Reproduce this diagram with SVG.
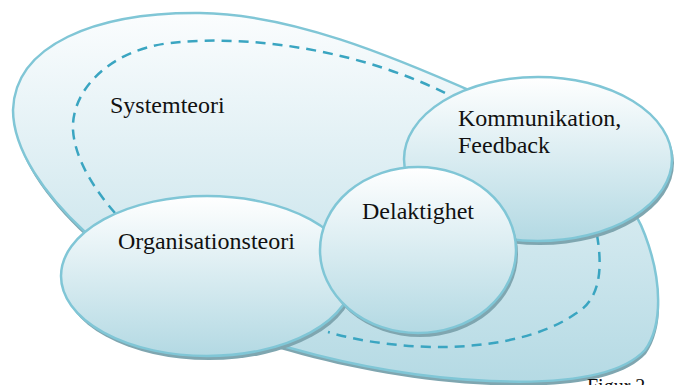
<svg xmlns="http://www.w3.org/2000/svg" width="680" height="385" viewBox="0 0 680 385">
  <defs>
    <linearGradient id="fillGrad" x1="0" y1="0" x2="0" y2="1">
      <stop offset="0" stop-color="#ffffff"/>
      <stop offset="1" stop-color="#b3d9e3"/>
    </linearGradient>
    <linearGradient id="blobGrad" x1="0" y1="0" x2="0" y2="1">
      <stop offset="0" stop-color="#fbfdfe"/>
      <stop offset="1" stop-color="#b5dae4"/>
    </linearGradient>
  </defs>
  <style>
    .shape { stroke: #80c6d6; stroke-width: 2.5; }
    .ell { fill: url(#fillGrad); }
    .shadow { fill: #7fa6b0; stroke: none; }
    .loop { fill: none; stroke: #3aa5c1; stroke-width: 2.5; stroke-dasharray: 10 7; }
    .label { font-family: "Liberation Serif", "Times New Roman", serif; font-size: 24px; fill: #111111; }
    .caption { font-family: "Liberation Serif", "Times New Roman", serif; font-size: 20px; fill: #111111; }
  </style>

  <!-- Systemteori: the large outer region -->
  <g id="systemteori">
    <path class="shadow" transform="translate(1,4)" d="M 13,110 C 15,45 95,12 200,13 C 290,14 390,55 480,95 C 560,130 625,180 645,235 C 662,280 663,325 645,350 C 620,377 560,384 490,381 C 420,378 350,365 290,348 C 220,330 140,285 85,232 C 45,195 13,150 13,110 Z"/>
    <path class="shape" fill="url(#blobGrad)" d="M 13,110 C 15,45 95,12 200,13 C 290,14 390,55 480,95 C 560,130 625,180 645,235 C 662,280 663,325 645,350 C 620,377 560,384 490,381 C 420,378 350,365 290,348 C 220,330 140,285 85,232 C 45,195 13,150 13,110 Z"/>
    <text class="label" x="110" y="113">Systemteori</text>
  </g>

  <!-- dashed loop through the region -->
  <g id="connectors">
    <path class="loop" d="M 115,213 C 95,190 75,160 73,130 C 71,90 110,50 170,43 C 260,33 370,55 447,94"/>
    <path class="loop" d="M 597,235 C 603,270 600,300 575,314 C 545,335 500,345 450,347 C 410,348 360,342 328,332"/>
  </g>

  <g id="organisationsteori">
    <ellipse class="shadow" cx="209" cy="280" rx="146" ry="80"/>
    <ellipse class="shape ell" cx="207" cy="276" rx="146" ry="80"/>
    <text class="label" x="118" y="249">Organisationsteori</text>
  </g>

  <g id="kommunikation">
    <ellipse class="shadow" cx="540" cy="163" rx="134" ry="82"/>
    <ellipse class="shape ell" cx="538" cy="159" rx="134" ry="82"/>
    <text class="label" x="458" y="126">Kommunikation,</text>
    <text class="label" x="458" y="153">Feedback</text>
  </g>

  <g id="delaktighet">
    <ellipse class="shadow" cx="420" cy="254" rx="98" ry="83"/>
    <ellipse class="shape ell" cx="418" cy="250" rx="98" ry="83"/>
    <text class="label" x="362" y="219">Delaktighet</text>
  </g>

  <text class="caption" x="587" y="393">Figur 2</text>
</svg>
